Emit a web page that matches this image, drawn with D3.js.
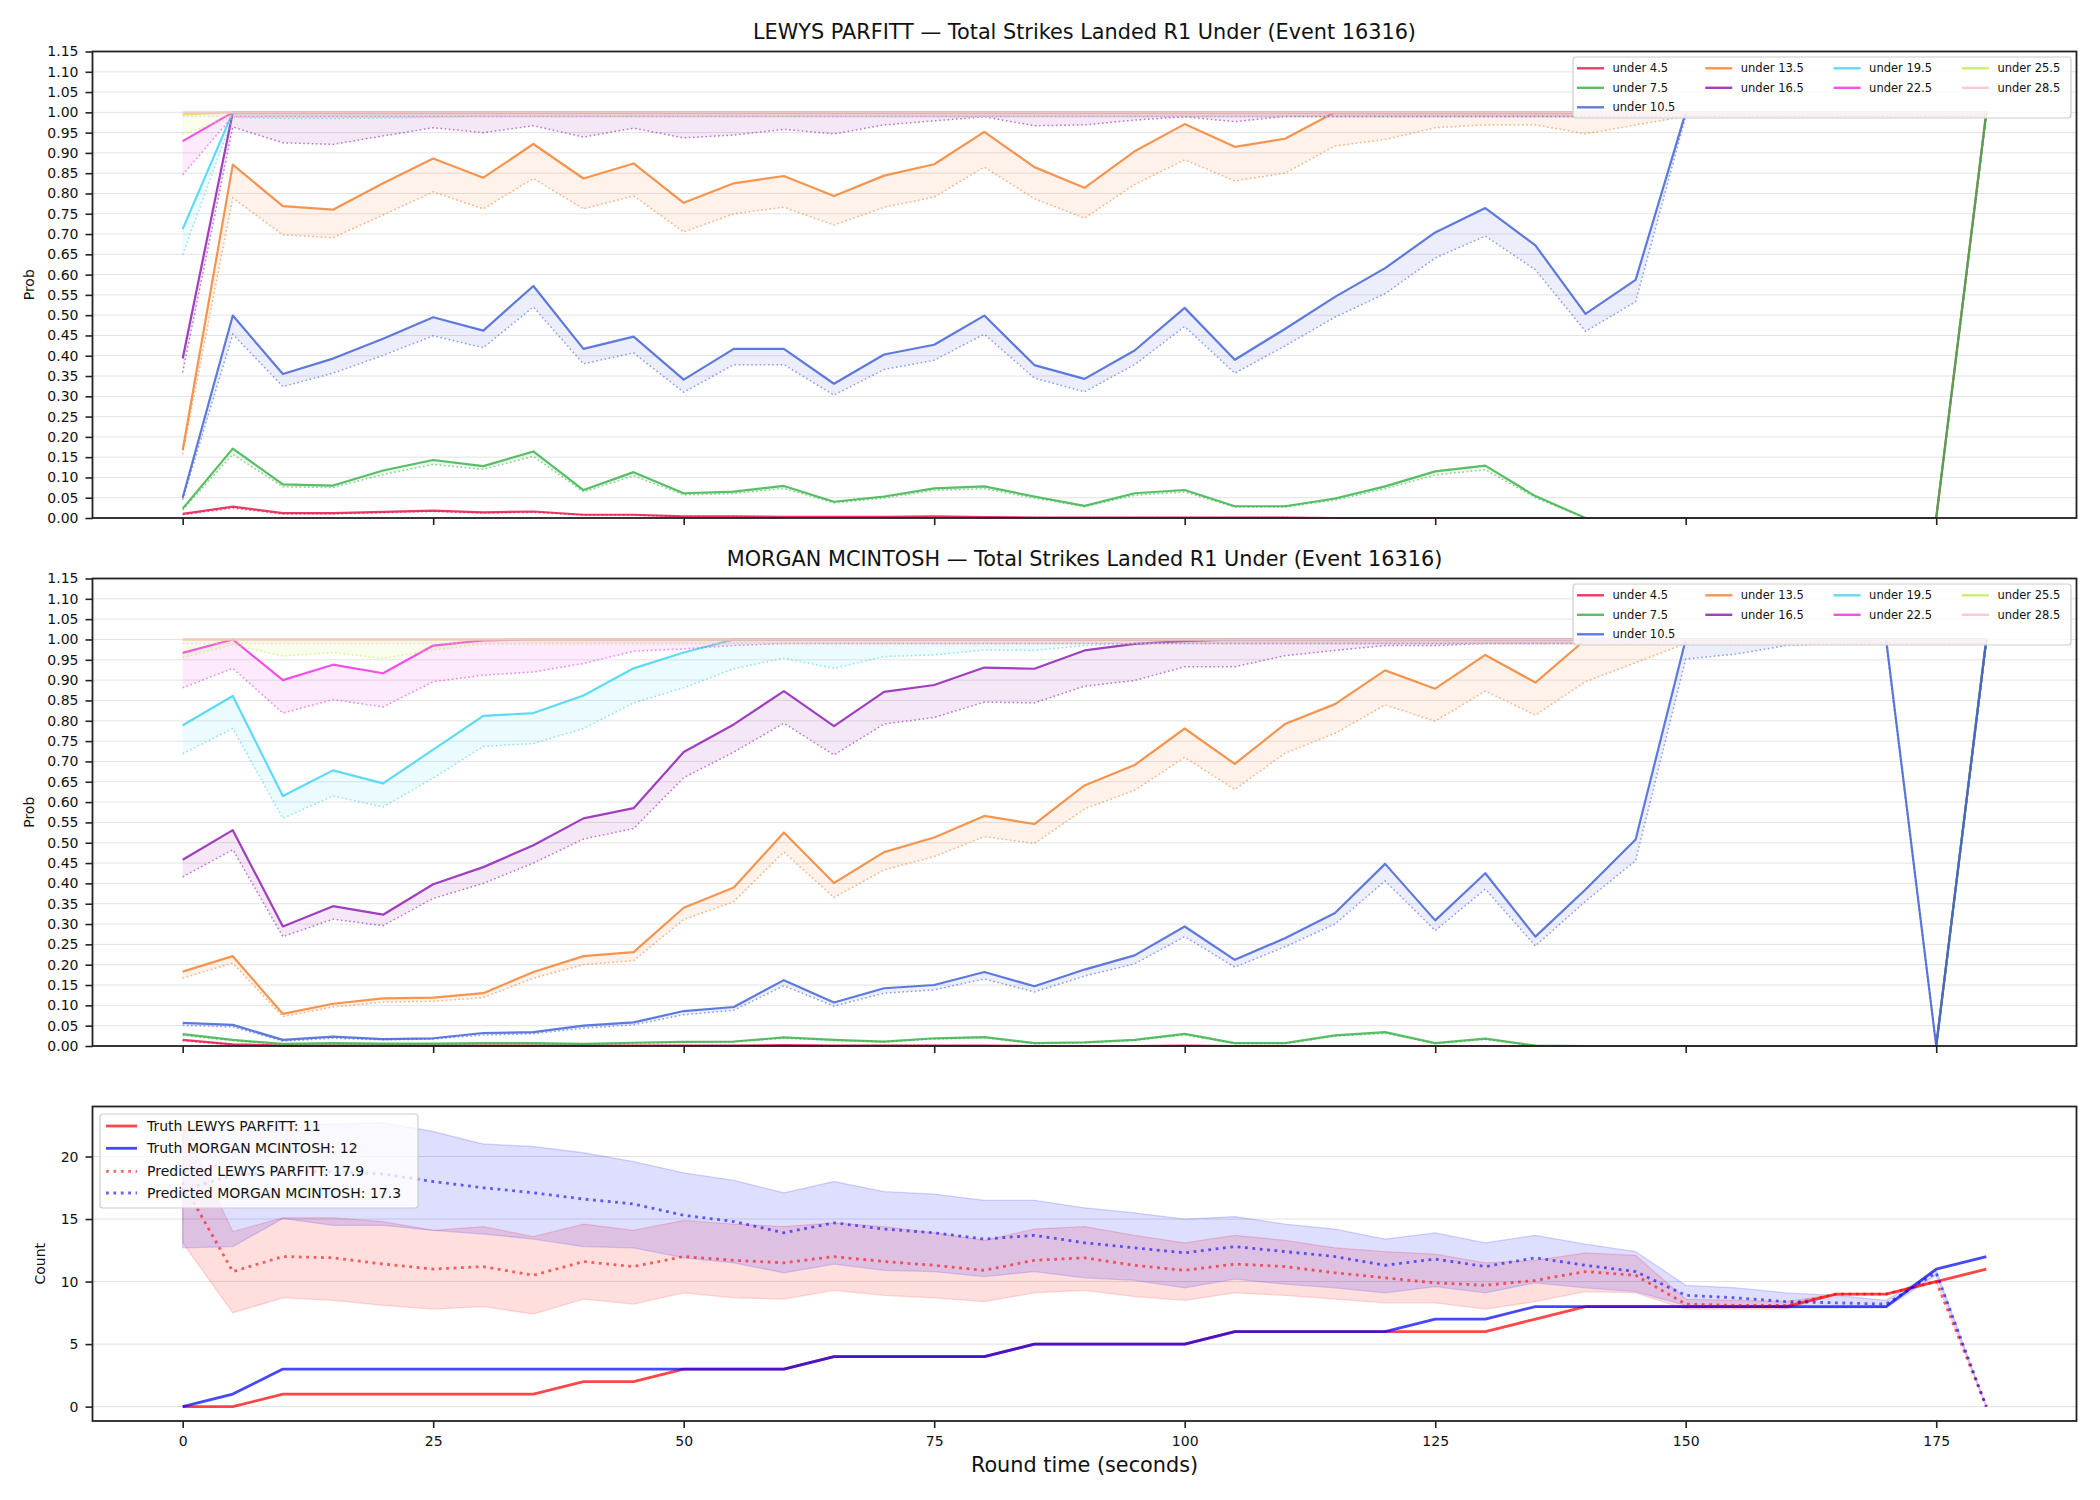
<!DOCTYPE html>
<html>
<head>
<meta charset="utf-8">
<script src="https://cdn.jsdelivr.net/npm/d3@7"></script>
<style>
  body { margin: 0; background: #fff; }
</style>
</head>
<body>
<script>
// round time (seconds)
const times = [0,5,10,15,20,25,30,35,40,45,50,55,60,65,70,75,80,85,90,95,100,105,110,115,120,125,130,135,140,145,150,155,160,165,170,175,180];

const lineNames = ["under 4.5","under 7.5","under 10.5","under 13.5","under 16.5","under 19.5","under 22.5","under 25.5","under 28.5"];
const lineColors = ["#e6194b","#3cb44b","#4363d8","#f58231","#911eb4","#42d4f4","#f032e6","#bfef45","#fabed4"];

const probTicks = [0.00,0.05,0.10,0.15,0.20,0.25,0.30,0.35,0.40,0.45,0.50,0.55,0.60,0.65,0.70,0.75,0.80,0.85,0.90,0.95,1.00,1.05,1.10,1.15];
const timeTicks = [0,25,50,75,100,125,150,175];
const countTicks = [0,5,10,15,20];

// ---- LEWYS PARFITT (solid = market, dotted = model)
const parfitt_u4_5     = [0.010,0.028,0.012,0.012,0.015,0.018,0.014,0.016,0.008,0.008,0.004,0.004,0.003,0.003,0.003,0.004,0.002,0.001,0.001,0.001,0.001,0.001,0.001,0,0,0,0,0,0,0,0,0,0,0,0,0,1];
const parfitt_u4_5_d   = [0.008,0.024,0.010,0.010,0.013,0.016,0.012,0.014,0.007,0.007,0.003,0.003,0.002,0.002,0.002,0.003,0.002,0.001,0.001,0.001,0.001,0.001,0.001,0,0,0,0,0,0,0,0,0,0,0,0,0,0.99];
const parfitt_u7_5     = [0.023,0.171,0.083,0.080,0.117,0.143,0.128,0.164,0.069,0.113,0.061,0.065,0.079,0.040,0.053,0.073,0.078,0.053,0.030,0.061,0.069,0.029,0.029,0.048,0.078,0.115,0.129,0.054,0,0,0,0,0,0,0,0,1];
const parfitt_u7_5_d   = [0.020,0.157,0.077,0.075,0.107,0.132,0.120,0.152,0.064,0.104,0.057,0.060,0.073,0.037,0.049,0.068,0.072,0.049,0.028,0.056,0.064,0.027,0.027,0.044,0.072,0.106,0.119,0.050,0,0,0,0,0,0,0,0,0.99];
const parfitt_u10_5    = [0.050,0.499,0.355,0.393,0.442,0.495,0.462,0.572,0.417,0.447,0.341,0.417,0.417,0.331,0.403,0.427,0.499,0.377,0.343,0.413,0.518,0.390,0.466,0.545,0.616,0.704,0.764,0.672,0.503,0.587,1,1,1,1,1,1,1];
const parfitt_u10_5_d  = [0.045,0.453,0.324,0.357,0.401,0.449,0.420,0.520,0.380,0.407,0.310,0.378,0.378,0.303,0.366,0.389,0.453,0.345,0.311,0.378,0.472,0.357,0.424,0.495,0.553,0.641,0.695,0.612,0.460,0.533,0.99,0.99,0.99,0.99,0.99,0.99,0.99];
const parfitt_u13_5    = [0.167,0.871,0.769,0.760,0.825,0.886,0.839,0.922,0.837,0.874,0.777,0.825,0.843,0.794,0.844,0.872,0.952,0.865,0.814,0.904,0.971,0.915,0.935,1,1,1,1,1,1,1,1,1,1,1,1,1,1];
const parfitt_u13_5_d  = [0.157,0.789,0.698,0.691,0.747,0.804,0.762,0.837,0.762,0.794,0.705,0.750,0.766,0.722,0.766,0.791,0.865,0.787,0.739,0.822,0.883,0.831,0.850,0.917,0.933,0.962,0.969,0.969,0.947,0.969,0.99,0.99,0.99,0.99,0.99,0.99,0.99];
const parfitt_u16_5    = [0.393,1,1,1,1,1,1,1,1,1,1,1,1,1,1,1,1,1,1,1,1,1,1,1,1,1,1,1,1,1,1,1,1,1,1,1,1];
const parfitt_u16_5_d  = [0.359,0.964,0.925,0.921,0.942,0.962,0.950,0.967,0.939,0.961,0.937,0.944,0.958,0.947,0.969,0.979,0.989,0.967,0.969,0.981,0.989,0.977,0.990,0.99,0.99,0.99,0.99,0.99,0.99,0.99,0.99,0.99,0.99,0.99,0.99,0.99,0.99];
const parfitt_u19_5    = [0.712,1,1,1,1,1,1,1,1,1,1,1,1,1,1,1,1,1,1,1,1,1,1,1,1,1,1,1,1,1,1,1,1,1,1,1,1];
const parfitt_u19_5_d  = [0.649,0.988,0.985,0.985,0.986,0.988,0.99,0.99,0.99,0.99,0.99,0.99,0.99,0.99,0.99,0.99,0.99,0.99,0.99,0.99,0.99,0.99,0.99,0.99,0.99,0.99,0.99,0.99,0.99,0.99,0.99,0.99,0.99,0.99,0.99,0.99,0.99];
const parfitt_u22_5    = [0.929,1,1,1,1,1,1,1,1,1,1,1,1,1,1,1,1,1,1,1,1,1,1,1,1,1,1,1,1,1,1,1,1,1,1,1,1];
const parfitt_u22_5_d  = [0.846,0.99,0.99,0.99,0.99,0.99,0.99,0.99,0.99,0.99,0.99,0.99,0.99,0.99,0.99,0.99,0.99,0.99,0.99,0.99,0.99,0.99,0.99,0.99,0.99,0.99,0.99,0.99,0.99,0.99,0.99,0.99,0.99,0.99,0.99,0.99,0.99];
const parfitt_u25_5    = [0.995,1,1,1,1,1,1,1,1,1,1,1,1,1,1,1,1,1,1,1,1,1,1,1,1,1,1,1,1,1,1,1,1,1,1,1,1];
const parfitt_u25_5_d  = [0.945,0.99,0.99,0.99,0.99,0.99,0.99,0.99,0.99,0.99,0.99,0.99,0.99,0.99,0.99,0.99,0.99,0.99,0.99,0.99,0.99,0.99,0.99,0.99,0.99,0.99,0.99,0.99,0.99,0.99,0.99,0.99,0.99,0.99,0.99,0.99,0.99];
const parfitt_u28_5    = [1,1,1,1,1,1,1,1,1,1,1,1,1,1,1,1,1,1,1,1,1,1,1,1,1,1,1,1,1,1,1,1,1,1,1,1,1];
const parfitt_u28_5_d  = [0.99,0.99,0.99,0.99,0.99,0.99,0.99,0.99,0.99,0.99,0.99,0.99,0.99,0.99,0.99,0.99,0.99,0.99,0.99,0.99,0.99,0.99,0.99,0.99,0.99,0.99,0.99,0.99,0.99,0.99,0.99,0.99,0.99,0.99,0.99,0.99,0.99];

// ---- MORGAN MCINTOSH
const mcintosh_u4_5    = [0.015,0.004,0.001,0.001,0.001,0.001,0.001,0.001,0.001,0.001,0.001,0.001,0.002,0.001,0.001,0.001,0.001,0,0,0,0.001,0,0,0,0,0,0,0,0,0,0,0,0,0,0,0,1];
const mcintosh_u4_5_d  = [0.013,0.003,0.001,0.001,0.001,0.001,0.001,0.001,0.001,0.001,0.001,0.001,0.001,0.001,0.001,0.001,0.001,0,0,0,0.001,0,0,0,0,0,0,0,0,0,0,0,0,0,0,0,0.99];
const mcintosh_u7_5    = [0.029,0.015,0.005,0.007,0.006,0.006,0.007,0.007,0.005,0.008,0.010,0.011,0.021,0.015,0.011,0.019,0.022,0.007,0.009,0.015,0.030,0.007,0.007,0.026,0.034,0.007,0.018,0.001,0,0,0,0,0,0,0,0,1];
const mcintosh_u7_5_d  = [0.026,0.013,0.004,0.006,0.005,0.005,0.006,0.006,0.004,0.007,0.009,0.010,0.019,0.014,0.010,0.017,0.020,0.006,0.008,0.014,0.027,0.006,0.006,0.024,0.031,0.006,0.016,0.001,0,0,0,0,0,0,0,0,0.99];
const mcintosh_u10_5   = [0.057,0.052,0.015,0.023,0.017,0.019,0.032,0.034,0.050,0.058,0.086,0.096,0.162,0.107,0.142,0.150,0.182,0.147,0.188,0.223,0.294,0.212,0.265,0.327,0.448,0.309,0.425,0.269,0.385,0.508,1,1,1,1,1,0,1];
const mcintosh_u10_5_d = [0.051,0.047,0.012,0.019,0.015,0.017,0.027,0.030,0.044,0.052,0.077,0.088,0.148,0.098,0.130,0.138,0.165,0.133,0.172,0.202,0.269,0.194,0.244,0.300,0.406,0.284,0.386,0.246,0.356,0.456,0.952,0.964,0.985,0.99,0.99,0,0.99];
const mcintosh_u13_5   = [0.183,0.221,0.079,0.104,0.117,0.119,0.130,0.182,0.221,0.231,0.340,0.390,0.525,0.401,0.477,0.513,0.566,0.546,0.641,0.691,0.781,0.694,0.792,0.841,0.924,0.879,0.962,0.894,1,1,1,1,1,1,1,1,1];
const mcintosh_u13_5_d = [0.167,0.204,0.072,0.096,0.108,0.110,0.119,0.167,0.200,0.210,0.311,0.355,0.477,0.365,0.433,0.466,0.515,0.498,0.583,0.629,0.710,0.631,0.720,0.769,0.839,0.799,0.873,0.814,0.896,0.943,0.99,0.99,0.99,0.99,0.99,0.99,0.99];
const mcintosh_u16_5   = [0.458,0.531,0.294,0.344,0.323,0.398,0.440,0.494,0.560,0.585,0.723,0.791,0.873,0.787,0.871,0.888,0.931,0.928,0.973,0.989,0.996,1,1,1,1,1,1,1,1,1,1,1,1,1,1,1,1];
const mcintosh_u16_5_d = [0.416,0.483,0.269,0.312,0.296,0.363,0.400,0.450,0.509,0.535,0.660,0.723,0.794,0.716,0.792,0.808,0.846,0.844,0.885,0.899,0.933,0.933,0.960,0.973,0.985,0.985,0.99,0.99,0.99,0.99,0.99,0.99,0.99,0.99,0.99,0.99,0.99];
const mcintosh_u19_5   = [0.789,0.861,0.615,0.678,0.646,0.729,0.812,0.819,0.862,0.929,0.968,1,1,1,1,1,1,1,1,1,1,1,1,1,1,1,1,1,1,1,1,1,1,1,1,1,1];
const mcintosh_u19_5_d = [0.719,0.781,0.560,0.615,0.588,0.659,0.737,0.744,0.781,0.844,0.881,0.928,0.954,0.929,0.958,0.962,0.974,0.973,0.985,0.99,0.99,0.99,0.99,0.99,0.99,0.99,0.99,0.99,0.99,0.99,0.99,0.99,0.99,0.99,0.99,0.99,0.99];
const mcintosh_u22_5   = [0.967,1,0.900,0.938,0.917,0.985,0.998,1,1,1,1,1,1,1,1,1,1,1,1,1,1,1,1,1,1,1,1,1,1,1,1,1,1,1,1,1,1];
const mcintosh_u22_5_d = [0.881,0.929,0.819,0.852,0.834,0.896,0.912,0.920,0.941,0.971,0.977,0.985,0.99,0.99,0.99,0.99,0.99,0.99,0.99,0.99,0.99,0.99,0.99,0.99,0.99,0.99,0.99,0.99,0.99,0.99,0.99,0.99,0.99,0.99,0.99,0.99,0.99];
const mcintosh_u25_5   = [1,1,1,1,1,1,1,1,1,1,1,1,1,1,1,1,1,1,1,1,1,1,1,1,1,1,1,1,1,1,1,1,1,1,1,1,1];
const mcintosh_u25_5_d = [0.956,0.987,0.959,0.968,0.953,0.974,0.989,0.99,0.99,0.99,0.99,0.99,0.99,0.99,0.99,0.99,0.99,0.99,0.99,0.99,0.99,0.99,0.99,0.99,0.99,0.99,0.99,0.99,0.99,0.99,0.99,0.99,0.99,0.99,0.99,0.99,0.99];
const mcintosh_u28_5   = [1,1,1,1,1,1,1,1,1,1,1,1,1,1,1,1,1,1,1,1,1,1,1,1,1,1,1,1,1,1,1,1,1,1,1,1,1];
const mcintosh_u28_5_d = [0.99,0.99,0.99,0.99,0.99,0.99,0.99,0.99,0.99,0.99,0.99,0.99,0.99,0.99,0.99,0.99,0.99,0.99,0.99,0.99,0.99,0.99,0.99,0.99,0.99,0.99,0.99,0.99,0.99,0.99,0.99,0.99,0.99,0.99,0.99,0.99,0.99];

// ---- counts
const truthParfitt  = [0,0,1,1,1,1,1,1,2,2,3,3,3,4,4,4,4,5,5,5,5,6,6,6,6,6,6,7,8,8,8,8,8,9,9,10,11];
const truthMcintosh = [0,1,3,3,3,3,3,3,3,3,3,3,3,4,4,4,4,5,5,5,5,6,6,6,6,7,7,8,8,8,8,8,8,8,8,11,12];
const predParfitt   = [17.9,10.8,12.0,11.9,11.4,11.0,11.2,10.5,11.6,11.2,12.0,11.7,11.5,12.0,11.6,11.3,10.9,11.7,11.9,11.3,10.9,11.4,11.2,10.7,10.3,9.9,9.7,10.1,10.8,10.5,8.2,8.1,8.1,9.0,9.0,10.0,0];
const predMcintosh  = [17.3,18.5,18.8,18.8,18.6,18.0,17.5,17.1,16.6,16.2,15.3,14.8,13.9,14.7,14.2,13.9,13.4,13.7,13.1,12.7,12.3,12.8,12.4,12.0,11.3,11.8,11.2,11.9,11.3,10.8,8.9,8.7,8.4,8.3,8.2,10.7,0];
const hiParfitt     = [22.4,14.0,15.1,15.1,14.8,14.1,14.4,13.6,14.6,14.1,14.9,14.6,14.4,14.7,14.4,13.9,13.3,14.2,14.4,13.7,13.1,13.7,13.3,12.7,12.4,12.2,11.5,11.7,12.3,12.1,8.6,8.5,8.4,9.0,9.0,10.1,0];
const loParfitt     = [13.1,7.5,8.7,8.5,8.1,7.8,8.0,7.4,8.6,8.2,9.1,8.7,8.6,9.3,8.9,8.7,8.4,9.1,9.3,8.8,8.5,9.1,8.9,8.6,8.3,8.3,7.8,8.4,9.2,9.1,7.8,7.8,7.8,9.0,9.0,10.0,0];
const hiMcintosh    = [22.1,22.2,22.4,22.6,22.7,22.0,21.0,20.8,20.3,19.6,18.7,18.1,17.1,18.0,17.2,17.0,16.5,16.5,15.9,15.5,15.0,15.2,14.6,14.2,13.4,13.9,13.1,13.7,13.0,12.4,9.7,9.5,9.1,8.9,8.5,10.9,0];
const loMcintosh    = [12.7,12.8,15.05,14.5,14.5,14.1,13.8,13.4,12.8,12.7,11.9,11.5,10.7,11.4,10.9,10.8,10.4,10.8,10.3,10.1,9.5,10.2,9.8,9.5,9.1,9.6,9.1,9.9,9.5,9.2,8.1,8.0,7.9,7.9,7.9,10.5,0];

const countLegend = ["Truth LEWYS PARFITT: 11","Truth MORGAN MCINTOSH: 12","Predicted LEWYS PARFITT: 17.9","Predicted MORGAN MCINTOSH: 17.3"];

// ----------------------------------------------------------------
const FONT = "'DejaVu Sans', sans-serif";
const left = 92.5, right = 2076.5;

const svg = d3.select("body").append("svg")
    .attr("width", 2100).attr("height", 1500)
    .style("font-family", FONT);
svg.append("rect").attr("width", 2100).attr("height", 1500).attr("fill", "#fff");

const x = d3.scaleLinear().domain([-9, 189]).range([left, right]);

function styleAxis(a, fs) {
  a.select(".domain").remove();
  a.selectAll(".tick line").attr("stroke", "#222").attr("stroke-width", 1.6);
  a.selectAll(".tick text").attr("font-size", fs).attr("font-family", FONT).attr("fill", "#111");
}

function probPanel(top, bottom, title, solids, dots) {
  const y = d3.scaleLinear().domain([0, 1.15]).range([bottom, top]);
  const g = svg.append("g");

  g.selectAll("line.grid").data(probTicks).enter().append("line")
      .attr("x1", left).attr("x2", right)
      .attr("y1", d => y(d)).attr("y2", d => y(d))
      .attr("stroke", "#e3e3e3").attr("stroke-width", 1);

  solids.forEach((s, i) => {
    const rows = times.map((t, j) => ({t: t, a: s[j], b: dots[i][j]}));
    g.append("path").datum(rows)
        .attr("d", d3.area().x(d => x(d.t)).y0(d => y(d.b)).y1(d => y(d.a)))
        .attr("fill", lineColors[i]).attr("fill-opacity", 0.1);
    g.append("path").datum(rows)
        .attr("d", d3.line().x(d => x(d.t)).y(d => y(d.a)))
        .attr("fill", "none").attr("stroke", lineColors[i])
        .attr("stroke-width", 2.2).attr("stroke-opacity", 0.85).attr("stroke-linejoin", "round");
    g.append("path").datum(rows)
        .attr("d", d3.line().x(d => x(d.t)).y(d => y(d.b)))
        .attr("fill", "none").attr("stroke", lineColors[i])
        .attr("stroke-width", 1.5).attr("stroke-opacity", 0.6)
        .attr("stroke-dasharray", "1.6,2.6");
  });

  g.append("rect").attr("x", left).attr("y", top)
      .attr("width", right - left).attr("height", bottom - top)
      .attr("fill", "none").attr("stroke", "#222").attr("stroke-width", 1.8);

  const ya = g.append("g").attr("transform", `translate(${left},0)`)
      .call(d3.axisLeft(y).tickValues(probTicks).tickFormat(d3.format(".2f")).tickSize(7).tickPadding(7));
  styleAxis(ya, 14);
  const xa = g.append("g").attr("transform", `translate(0,${bottom})`)
      .call(d3.axisBottom(x).tickValues(timeTicks).tickFormat("").tickSize(7));
  styleAxis(xa, 14);

  g.append("text").attr("x", (left + right) / 2).attr("y", top - 13)
      .attr("text-anchor", "middle").attr("font-size", 20.8).attr("fill", "#111")
      .text(title);

  g.append("text").attr("transform", `translate(29,${(top + bottom) / 2}) rotate(-90)`)
      .attr("text-anchor", "middle").attr("dy", "0.35em")
      .attr("font-size", 14).attr("fill", "#111").text("Prob");

  // legend, 4 columns filled column by column
  const bx = 1573, by = top + 5.5;
  g.append("rect").attr("x", bx).attr("y", by).attr("width", 498).attr("height", 61)
      .attr("rx", 3).attr("fill", "#fff").attr("fill-opacity", 0.8)
      .attr("stroke", "#cccccc").attr("stroke-width", 1.2);
  const cols = [0,0,0,1,1,2,2,3,3], rowsIdx = [0,1,2,0,1,0,1,0,1];
  lineNames.forEach((name, i) => {
    const cx = 1577 + cols[i] * 128.3, cy = by + 11.3 + rowsIdx[i] * 19.5;
    g.append("line").attr("x1", cx).attr("x2", cx + 27).attr("y1", cy).attr("y2", cy)
        .attr("stroke", lineColors[i]).attr("stroke-width", 2.4).attr("stroke-opacity", 0.85);
    g.append("text").attr("x", cx + 35.5).attr("y", cy).attr("dy", "0.35em")
        .attr("font-size", 11.5).attr("fill", "#111").text(name);
  });
}

probPanel(51.5, 518, "LEWYS PARFITT \u2014 Total Strikes Landed R1 Under (Event 16316)",
  [parfitt_u4_5, parfitt_u7_5, parfitt_u10_5, parfitt_u13_5, parfitt_u16_5, parfitt_u19_5, parfitt_u22_5, parfitt_u25_5, parfitt_u28_5],
  [parfitt_u4_5_d, parfitt_u7_5_d, parfitt_u10_5_d, parfitt_u13_5_d, parfitt_u16_5_d, parfitt_u19_5_d, parfitt_u22_5_d, parfitt_u25_5_d, parfitt_u28_5_d]);

probPanel(578.5, 1046, "MORGAN MCINTOSH \u2014 Total Strikes Landed R1 Under (Event 16316)",
  [mcintosh_u4_5, mcintosh_u7_5, mcintosh_u10_5, mcintosh_u13_5, mcintosh_u16_5, mcintosh_u19_5, mcintosh_u22_5, mcintosh_u25_5, mcintosh_u28_5],
  [mcintosh_u4_5_d, mcintosh_u7_5_d, mcintosh_u10_5_d, mcintosh_u13_5_d, mcintosh_u16_5_d, mcintosh_u19_5_d, mcintosh_u22_5_d, mcintosh_u25_5_d, mcintosh_u28_5_d]);

// ---- count panel
const cTop = 1106.5, cBot = 1421;
const yc = d3.scaleLinear().domain([-1.15, 24.0]).range([cBot, cTop]);
const gc = svg.append("g");

gc.selectAll("line.grid").data(countTicks).enter().append("line")
    .attr("x1", left).attr("x2", right)
    .attr("y1", d => yc(d)).attr("y2", d => yc(d))
    .attr("stroke", "#e0e0e0").attr("stroke-width", 1);

function band(lo, hi, col) {
  const rows = times.map((t, j) => ({t: t, lo: lo[j], hi: hi[j]}));
  gc.append("path").datum(rows)
      .attr("d", d3.area().x(d => x(d.t)).y0(d => yc(d.lo)).y1(d => yc(d.hi)))
      .attr("fill", col).attr("fill-opacity", 0.13)
      .attr("stroke", col).attr("stroke-opacity", 0.15).attr("stroke-width", 1.3);
}
band(loParfitt, hiParfitt, "#ff0000");
band(loMcintosh, hiMcintosh, "#0000ff");

function countLine(vals, col, op, dash) {
  const rows = times.map((t, j) => ({t: t, v: vals[j]}));
  const p = gc.append("path").datum(rows)
      .attr("d", d3.line().x(d => x(d.t)).y(d => yc(d.v)))
      .attr("fill", "none").attr("stroke", col).attr("stroke-opacity", op)
      .attr("stroke-width", 2.8).attr("stroke-linejoin", "round");
  if (dash) p.attr("stroke-dasharray", dash);
}
countLine(truthParfitt, "#ff0000", 0.72, null);
countLine(truthMcintosh, "#0000ff", 0.72, null);
countLine(predParfitt, "#ff0000", 0.6, "2.8,4.6");
countLine(predMcintosh, "#0000ff", 0.6, "2.8,4.6");

gc.append("rect").attr("x", left).attr("y", cTop)
    .attr("width", right - left).attr("height", cBot - cTop)
    .attr("fill", "none").attr("stroke", "#222").attr("stroke-width", 1.8);

const cya = gc.append("g").attr("transform", `translate(${left},0)`)
    .call(d3.axisLeft(yc).tickValues(countTicks).tickSize(7).tickPadding(7));
styleAxis(cya, 14);
const cxa = gc.append("g").attr("transform", `translate(0,${cBot})`)
    .call(d3.axisBottom(x).tickValues(timeTicks).tickSize(7).tickPadding(8));
styleAxis(cxa, 14);

gc.append("text").attr("transform", `translate(40,${(cTop + cBot) / 2}) rotate(-90)`)
    .attr("text-anchor", "middle").attr("dy", "0.35em")
    .attr("font-size", 14).attr("fill", "#111").text("Count");

gc.append("text").attr("x", (left + right) / 2).attr("y", 1472)
    .attr("text-anchor", "middle").attr("font-size", 20.8).attr("fill", "#111")
    .text("Round time (seconds)");

// count legend
gc.append("rect").attr("x", 100).attr("y", 1114).attr("width", 318).attr("height", 94)
    .attr("rx", 3).attr("fill", "#fff").attr("fill-opacity", 0.8)
    .attr("stroke", "#cccccc").attr("stroke-width", 1.2);
const legCols = ["#ff0000", "#0000ff", "#ff0000", "#0000ff"];
const legY = [1126, 1148.3, 1171.3, 1193];
countLegend.forEach((lab, i) => {
  const l = gc.append("line").attr("x1", 106).attr("x2", 137).attr("y1", legY[i]).attr("y2", legY[i])
      .attr("stroke", legCols[i]).attr("stroke-width", 2.8)
      .attr("stroke-opacity", i < 2 ? 0.72 : 0.6);
  if (i >= 2) l.attr("stroke-dasharray", "2.8,4.6");
  gc.append("text").attr("x", 147).attr("y", legY[i]).attr("dy", "0.35em")
      .attr("font-size", 14).attr("fill", "#111").text(lab);
});
</script>
</body>
</html>
